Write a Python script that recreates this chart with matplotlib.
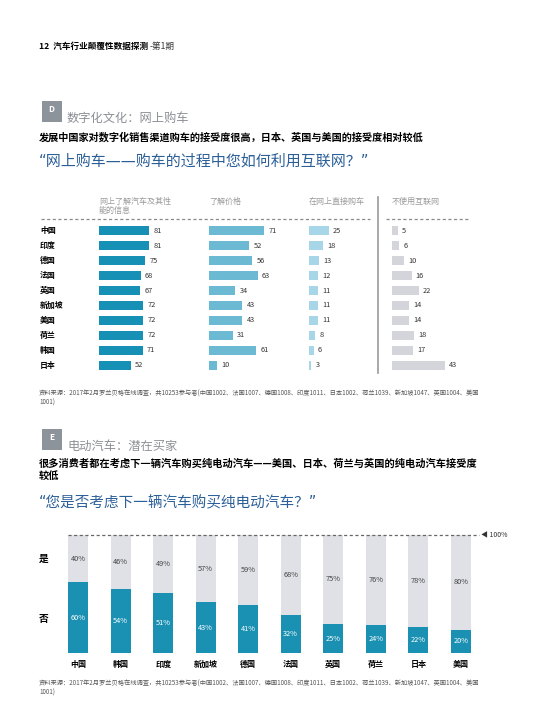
import matplotlib
matplotlib.use("Agg")
import matplotlib.pyplot as plt
from matplotlib.patches import Rectangle
import matplotlib.transforms as mtransforms

plt.rcParams['font.family'] = ['Noto Sans CJK SC', 'DejaVu Sans']

# ---- data: section D ----
countries_d = ["中国", "印度", "德国", "法国", "英国", "新加坡", "美国", "荷兰", "韩国", "日本"]
info = [81, 81, 75, 68, 67, 72, 72, 72, 71, 52]
price = [71, 52, 56, 63, 34, 43, 43, 31, 61, 10]
buy_online = [25, 18, 13, 12, 11, 11, 11, 8, 6, 3]
no_internet = [5, 6, 10, 16, 22, 14, 14, 18, 17, 43]
headers_d = ["网上了解汽车及其性\n能的信息", "了解价格", "在网上直接购车", "不使用互联网"]

# ---- data: section E ----
countries_e = ["中国", "韩国", "印度", "新加坡", "德国", "法国", "英国", "荷兰", "日本", "美国"]
yes_pct = [40, 46, 49, 57, 59, 68, 75, 76, 78, 80]
no_pct = [60, 54, 51, 43, 41, 32, 25, 24, 22, 20]

source = ("资料来源：2017年2月罗兰贝格在线调查，共10253参与者(中国1002、法国1007、德国1008、"
          "印度1011、日本1002、荷兰1039、新加坡1047、英国1004、美国\n1001)")

W, H = 550, 728
fig = plt.figure(figsize=(5.5, 7.28), dpi=100)


def fx(x):
    return x / W


def fy(y):
    return 1 - y / H


grey_title = "#8c8f94"
blue_q = "#2b5f98"
quote_fonts = ['DejaVu Sans', 'Noto Sans CJK SC']

# page header: bold part, then the issue number right after it
head = fig.text(fx(39), fy(46), "12  汽车行业颠覆性数据探测", fontsize=6.2, fontweight="bold", va="center")
renderer = fig.canvas.get_renderer()
head_end = head.get_window_extent(renderer).x1
fig.text(head_end / W + 0.002, fy(46), "-第1期", fontsize=6.2, va="center", color="#333333")


def section_head(y_box, letter, title):
    fig.add_artist(Rectangle((fx(41.5), fy(y_box + 21)), 20.5 / W, 21 / H,
                             transform=fig.transFigure, color="#8d939b", lw=0))
    fig.text(fx(51.5), fy(y_box + 9), letter, fontsize=6, color="white",
             fontweight="bold", ha="center", va="center")
    fig.text(fx(67), fy(y_box + 17.5), title, fontsize=8.8, color=grey_title, va="center")


# ---- section D ----
section_head(101, "D", "数字化文化：网上购车")
fig.text(fx(39), fy(137), "发展中国家对数字化销售渠道购车的接受度很高，日本、英国与美国的接受度相对较低",
         fontsize=7.3, fontweight="bold", va="center")
fig.text(fx(39), fy(161), "“网上购车——购车的过程中您如何利用互联网？”",
         fontsize=10.8, color=blue_q, va="center", family=quote_fonts)

cols = [(info, 99, 0.617, 100, "#1690b4"),
        (price, 209, 0.775, 95, "#6cb9d4"),
        (buy_online, 309, 0.79, 60, "#a6d6e8"),
        (no_internet, 391.7, 1.24, 80, "#d3d5da")]
row_top, row_h = 223.5, 14.9
n = len(countries_d)
axes_d = []
for k, (vals, x0, scale, w, color) in enumerate(cols):
    ax = fig.add_axes([fx(x0), fy(row_top + n * row_h), w / W, n * row_h / H])
    ax.barh(range(n), vals, height=0.6, color=color)
    for i, v in enumerate(vals):
        ax.annotate(str(v), (v, i), xytext=(3, 0), textcoords="offset points",
                    fontsize=5.3, color="#333333", va="center", ha="left")
    ax.set_xlim(0, w / scale)
    ax.set_ylim(n - 0.5, -0.5)
    ax.axis("off")
    fig.text(fx(x0), fy(197), headers_d[k], fontsize=5.8, color="#9a9a9a",
             va="top", ha="left", linespacing=1.0)
    axes_d.append(ax)

tr = mtransforms.blended_transform_factory(fig.transFigure, axes_d[0].transData)
for i, c in enumerate(countries_d):
    axes_d[0].text(fx(40), i, c, transform=tr, fontsize=5.7, fontweight="bold",
                   va="center", ha="left")

fig.add_artist(plt.Line2D([fx(41), fx(370)], [fy(218.5), fy(218.5)], transform=fig.transFigure,
                          color="#8a8a8a", lw=0.9, ls=(0, (2.5, 2))))
fig.add_artist(plt.Line2D([fx(386), fx(469)], [fy(218.5), fy(218.5)], transform=fig.transFigure,
                          color="#8a8a8a", lw=0.9, ls=(0, (2.5, 2))))
fig.add_artist(plt.Line2D([fx(377.7), fx(377.7)], [fy(197), fy(373)], transform=fig.transFigure,
                          color="#9a9a9a", lw=1.2))

fig.text(fx(39), fy(398), source, fontsize=4.5, color="#555555", va="center", linespacing=1.3)

# ---- section E ----
section_head(429, "E", "电动汽车：潜在买家")
fig.text(fx(39), fy(470), "很多消费者都在考虑下一辆汽车购买纯电动汽车——美国、日本、荷兰与英国的纯电动汽车接受度\n较低",
         fontsize=7.35, fontweight="bold", va="center", linespacing=1.25)
fig.text(fx(39), fy(503), "“您是否考虑下一辆汽车购买纯电动汽车？”",
         fontsize=10.5, color=blue_q, va="center", family=quote_fonts)

axe = fig.add_axes([fx(57), fy(653.3), 425 / W, 118.3 / H])
xs = range(len(countries_e))
axe.bar(xs, no_pct, width=0.47, color="#1a90b2")
axe.bar(xs, yes_pct, width=0.47, bottom=no_pct, color="#e0e1e6")
for i in xs:
    axe.text(i, no_pct[i] / 2, f"{no_pct[i]}%", ha="center", va="center",
             fontsize=5.3, color="white")
    axe.text(i, no_pct[i] + yes_pct[i] / 2, f"{yes_pct[i]}%", ha="center", va="center",
             fontsize=5.3, color="#444444")
    axe.text(i, -9.5, countries_e[i], ha="center", va="center", fontsize=5.8,
             fontweight="bold")
axe.set_xlim(-0.5, len(countries_e) - 0.5)
axe.set_ylim(0, 100)
axe.axhline(100, xmin=(68 - 57) / 425, xmax=(479 - 57) / 425, color="#666666",
            lw=0.9, ls=(0, (2.5, 2)), clip_on=False)
axe.axis("off")
fig.text(fx(481), fy(535), "◀ 100%", fontsize=5, color="#333333", va="center")
fig.text(fx(44), fy(559), "是", fontsize=7, fontweight="bold", ha="center", va="center")
fig.text(fx(44), fy(619), "否", fontsize=7, fontweight="bold", ha="center", va="center")

fig.text(fx(39), fy(688), source, fontsize=4.5, color="#555555", va="center", linespacing=1.3)

fig.savefig("out.png", dpi=100)
